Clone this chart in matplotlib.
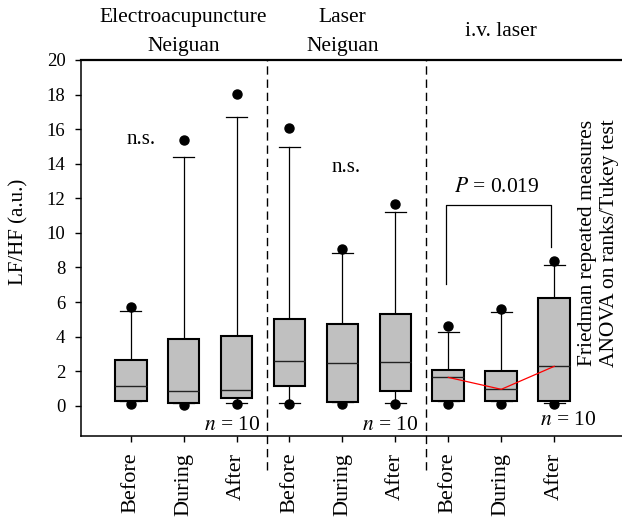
"""
Figure: LF/HF boxplot, electroacupuncture vs laser
"""
# --------------------------------------------------------------------------------
# 1.Import modular
# --------------------------------------------------------------------------------
import matplotlib
matplotlib.use("Agg")
import matplotlib.pyplot as plt
import matplotlib.transforms as mtransforms


# --------------------------------------------------------------------------------
# 2.Define variable
# --------------------------------------------------------------------------------
# data
POSITIONS = [1, 2, 3, 4, 5, 6, 7, 8, 9]
TICK_LABELS = ["Before", "During", "After"] * 3
GROUP_NAMES = [["Electroacupuncture", "Neiguan"], ["Laser", "Neiguan"], ["i.v. laser"]]
GROUP_CENTERS = [2, 5, 8]
Q1 = [0.25, 0.15, 0.43, 1.16, 0.19, 0.83, 0.25, 0.29, 0.25]
MEDIAN = [1.14, 0.87, 0.91, 2.59, 2.47, 2.51, 1.64, 0.95, 2.28]
Q3 = [2.64, 3.87, 4.02, 5.02, 4.75, 5.31, 2.07, 1.99, 6.22]
WHIS_LO = [0.25, 0.15, 0.13, 0.13, 0.19, 0.13, 0.25, 0.29, 0.18]
WHIS_HI = [5.49, 14.38, 16.70, 14.98, 8.83, 11.19, 4.25, 5.41, 8.17]
FLIER_HI = [5.70, 15.40, 18.05, 16.08, 9.08, 11.65, 4.64, 5.60, 8.39]
FLIER_LO = [0.10, 0.06, 0.10, 0.10, 0.10, 0.10, 0.10, 0.10, 0.10]
SEPARATORS = [3.57, 6.58]
BRACKET_X = [6.95, 8.94]
BRACKET_Y = [7.05, 11.63, 9.18]

# plot
FONT_SIZE = 15.5
PLOT_DPI = 100
PLOT_X_SIZE = 6.22
PLOT_Y_SIZE = 5.18


# --------------------------------------------------------------------------------
# 3.Define function
# --------------------------------------------------------------------------------
def draw_boxplot():
    plt.rcParams["font.family"] = ["Liberation Serif", "DejaVu Serif"]
    plt.rcParams["mathtext.fontset"] = "stix"

    stats = []
    for i in range(len(POSITIONS)):
        stats.append({"q1": Q1[i], "med": MEDIAN[i], "q3": Q3[i],
                      "whislo": WHIS_LO[i], "whishi": WHIS_HI[i],
                      "fliers": [FLIER_HI[i], FLIER_LO[i]]})

    fig = plt.figure(figsize=(PLOT_X_SIZE, PLOT_Y_SIZE), dpi=PLOT_DPI, facecolor="w")
    ax = fig.add_axes([0.1297, 0.1583, 0.8703, 0.7259])

    ax.bxp(stats, positions=POSITIONS, widths=0.6, patch_artist=True,
           boxprops={"facecolor": "#c0c0c0", "edgecolor": "k", "linewidth": 1.5, "zorder": 3},
           medianprops={"color": "#222222", "linewidth": 1.0, "zorder": 4},
           whiskerprops={"color": "k", "linewidth": 0.9},
           capprops={"color": "k", "linewidth": 0.9},
           capwidths=0.4,
           flierprops={"marker": "o", "markerfacecolor": "k", "markeredgecolor": "k",
                       "markersize": 6.5, "linestyle": "none", "zorder": 1})

    # red median line of i.v. laser
    ax.plot(POSITIONS[6:], MEDIAN[6:], color="red", linewidth=0.9, zorder=5)

    # axes setting
    ax.set_xlim(0.056, 10.28)
    ax.set_ylim(-1.75, 20)
    ax.set_yticks(range(0, 21, 2))
    ax.set_xticks(POSITIONS)
    ax.set_xticklabels(TICK_LABELS, rotation=90, fontsize=16)
    ax.tick_params(axis="y", direction="out", length=4, width=1, pad=7, labelsize=13.5)
    ax.tick_params(axis="x", direction="out", length=4, width=1, pad=8)
    ax.spines["right"].set_visible(False)
    ax.spines["top"].set_linewidth(1.6)
    ax.spines["left"].set_linewidth(1.1)
    ax.spines["bottom"].set_linewidth(1.1)
    ax.set_ylabel("LF/HF (a.u.)", fontsize=15)
    ax.yaxis.set_label_coords(-0.097, 0.542)

    # group separators
    trans = mtransforms.blended_transform_factory(ax.transData, ax.transAxes)
    for sx in SEPARATORS:
        ax.plot([sx, sx], [-0.09, 1.0], transform=trans, color="k", linewidth=1.0,
                linestyle=(0, (6, 3.5)), clip_on=False)

    # group names
    for name, cx in zip(GROUP_NAMES, GROUP_CENTERS):
        if len(name) == 2:
            ax.text(cx, 1.112, name[0], transform=trans, ha="center", va="center", fontsize=FONT_SIZE)
            ax.text(cx, 1.037, name[1], transform=trans, ha="center", va="center", fontsize=FONT_SIZE)
        else:
            ax.text(cx, 1.075, name[0], transform=trans, ha="center", va="center", fontsize=FONT_SIZE)

    # annotations
    ax.text(1.19, 15.4, "n.s.", ha="center", va="center", fontsize=15)
    ax.text(5.06, 13.76, "n.s.", ha="center", va="center", fontsize=15)
    ax.text(3.45, -1.16, "$n$ = 10", ha="right", va="center", fontsize=FONT_SIZE)
    ax.text(6.43, -1.16, "$n$ = 10", ha="right", va="center", fontsize=FONT_SIZE)
    ax.text(9.27, -0.83, "$n$ = 10", ha="center", va="center", fontsize=FONT_SIZE)

    # significance bracket
    ax.plot([BRACKET_X[0], BRACKET_X[0], BRACKET_X[1], BRACKET_X[1]],
            [BRACKET_Y[0], BRACKET_Y[1], BRACKET_Y[1], BRACKET_Y[2]],
            color="k", linewidth=0.9)
    ax.text(7.91, 12.65, "$P$ = 0.019", ha="center", va="center", fontsize=FONT_SIZE)

    # test name
    fig.text(598.5 / 622, 1 - 243 / 518, "Friedman repeated measures\nANOVA on ranks/Tukey test",
             rotation=90, ha="center", va="center", multialignment="center",
             fontsize=FONT_SIZE, linespacing=1.25)

    plt.savefig("out.png", dpi=PLOT_DPI, format="png")
    plt.close()


# --------------------------------------------------------------------------------
# 4.Main function
# --------------------------------------------------------------------------------
def main_function():
    draw_boxplot()


if __name__ == '__main__':
    main_function()
